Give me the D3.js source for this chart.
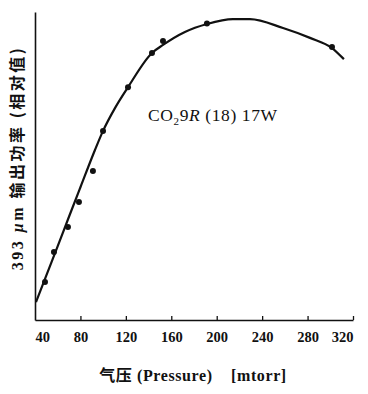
<!DOCTYPE html>
<html><head><meta charset="utf-8">
<script src="https://cdn.jsdelivr.net/npm/d3@7"></script>
<style>body{margin:0;background:#fff}svg{display:block}text{white-space:pre}</style>
</head><body>
<svg id="c" width="368" height="394"></svg>
<script>
// measured points: pressure (mtorr), relative output power
const pointPressure = [48.8, 56.7, 69, 78.7, 91, 99.9, 121.9, 143, 152.7, 191.4, 301.5];
const pointPower    = [12.3, 22.1, 30.2, 38.3, 48.4, 61.4, 75.6, 86.7, 90.6, 96.3, 88.6];
// fitted curve
const curvePressure = [40.9, 50, 60, 70, 80, 92.8, 99.9, 110.4, 121.9, 143, 152.7, 172, 191.4, 214.3, 229.3, 258.4, 282.1, 301.5, 312];
const curvePower    = [5.8, 14.5, 24.0, 33.6, 43.1, 55.2, 61.4, 68.8, 75.6, 86.7, 89.3, 93.5, 96.1, 97.7, 97.7, 94.8, 91.6, 88.3, 84.7];
const xTicks = [40, 80, 120, 160, 200, 240, 280, 320];

const svg = d3.select("#c");
const x = d3.scaleLinear().domain([40, 320]).range([35, 353]);
const y = d3.scaleLinear().domain([0, 100]).range([320, 12]);

// axes
const xAxis = d3.axisBottom(x).tickValues(xTicks).tickSize(0).tickPadding(12);
const gx = svg.append("g").attr("transform", "translate(0,320)").call(xAxis);
gx.select(".domain").attr("stroke", "#111").attr("stroke-width", 1.6);
gx.selectAll(".tick text")
  .attr("font-family", "'Liberation Serif', serif")
  .attr("font-weight", "bold").attr("font-size", 14.5).attr("fill", "#111")
  .attr("text-anchor", (d, i) => i === 0 ? "start" : (i === xTicks.length - 1 ? "end" : "middle"));
gx.selectAll(".tick").filter(d => d !== 40).append("line")
  .attr("y1", 0).attr("y2", -4).attr("stroke", "#111").attr("stroke-width", 1.3);

const yAxis = d3.axisLeft(y).tickValues([]).tickSize(0);
const gy = svg.append("g").attr("transform", "translate(35,0)").call(yAxis);
gy.select(".domain").attr("stroke", "#111").attr("stroke-width", 1.6);

// curve
const curveData = curvePressure.map((p, i) => [p, curvePower[i]]);
svg.append("path").datum(curveData)
  .attr("fill", "none").attr("stroke", "#111").attr("stroke-width", 2.2)
  .attr("d", d3.line().x(d => x(d[0])).y(d => y(d[1])).curve(d3.curveMonotoneX));

// points
svg.selectAll("circle.pt").data(pointPressure.map((p, i) => [p, pointPower[i]]))
  .join("circle").attr("class", "pt")
  .attr("cx", d => x(d[0])).attr("cy", d => y(d[1])).attr("r", 3).attr("fill", "#111");

// annotation
const ann = svg.append("text").attr("x", 148).attr("y", 121)
  .attr("font-family", "'Liberation Serif', serif").attr("font-size", 17.5)
  .attr("letter-spacing", 0.6).attr("fill", "#111");
ann.append("tspan").text("CO");
ann.append("tspan").text("2").attr("font-size", 11).attr("dy", 4);
ann.append("tspan").text("9").attr("dy", -4);
ann.append("tspan").text("R").attr("font-style", "italic");
ann.append("tspan").text(" (18) 17W");

// x title
const xt = svg.append("text").attr("x", 193).attr("y", 381).attr("text-anchor", "middle")
  .attr("font-size", 16).attr("fill", "#111").attr("font-weight", "bold")
  .attr("letter-spacing", 0.6)
  .attr("font-family", "'Liberation Serif', serif");
xt.append("tspan").text("气压").attr("font-family", "'Noto Sans CJK SC', sans-serif").attr("font-size", 16);
xt.append("tspan").text(" (Pressure)    [mtorr]");

// y title
const yt = svg.append("text").attr("transform", "translate(23,158) rotate(-90)")
  .attr("text-anchor", "middle").attr("font-size", 16).attr("fill", "#111").attr("font-weight", "bold")
  .attr("letter-spacing", 2.5)
  .attr("font-family", "'Liberation Serif', serif");
yt.append("tspan").text("393 ");
yt.append("tspan").text("μ").attr("font-style", "italic");
yt.append("tspan").text("m ");
yt.append("tspan").text("输出功率 (相对值)").attr("font-family", "'Noto Sans CJK SC', sans-serif").attr("font-size", 16);
</script>
</body></html>
